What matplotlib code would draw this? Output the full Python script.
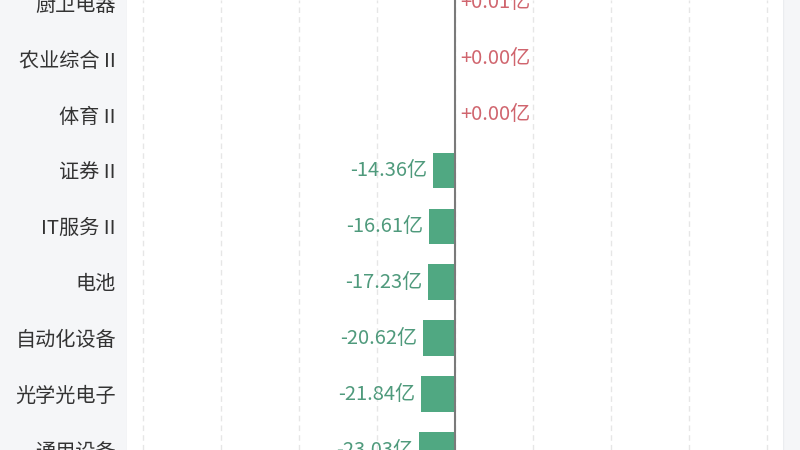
import matplotlib
matplotlib.use("Agg")
import matplotlib.pyplot as plt
from matplotlib.patches import Rectangle

plt.rcParams["font.family"] = ["Noto Sans CJK SC", "DejaVu Sans"]

categories = ["厨卫电器", "农业综合 II", "体育 II", "证券 II", "IT服务 II",
              "电池", "自动化设备", "光学光电子", "通用设备"]
values = [0.01, 0.00, 0.00, -14.36, -16.61, -17.23, -20.62, -21.84, -23.03]
value_labels = ["+0.01亿", "+0.00亿", "+0.00亿", "-14.36亿", "-16.61亿",
                "-17.23亿", "-20.62亿", "-21.84亿", "-23.03亿"]

green_bar = "#50a882"
green_text = "#4f9a7c"
red_text = "#d0656e"

fig = plt.figure(figsize=(8, 4.5), dpi=100, facecolor="white")

# side panels (behind the axes)
fig.patches.append(Rectangle((0, 0), 127 / 800, 1, transform=fig.transFigure,
                             facecolor="#f5f6f8", edgecolor="none", zorder=-2))
fig.patches.append(Rectangle((783 / 800, 0), 17 / 800, 1, transform=fig.transFigure,
                             facecolor="#f5f6f8", edgecolor="none", zorder=-2))
fig.lines.append(plt.Line2D([127 / 800, 127 / 800], [0, 1], transform=fig.transFigure,
                            color="#ebedf0", linewidth=1, zorder=-1))
fig.lines.append(plt.Line2D([783 / 800, 783 / 800], [0, 1], transform=fig.transFigure,
                            color="#ebedf0", linewidth=1, zorder=-1))

ax = fig.add_axes([127 / 800, 0, 656 / 800, 1])
ax.set_facecolor("white")

y = list(range(len(categories)))
colors = [green_bar if v < 0 else "#d0656e" for v in values]
ax.barh(y, values, height=0.64, color=colors, zorder=2)

for yi, v, lab in zip(y, values, value_labels):
    if v < 0:
        ax.annotate(lab, (v, yi), xytext=(-4, 0), textcoords="offset points",
                    ha="right", va="center", fontsize=14.5, color=green_text)
    else:
        ax.annotate(lab, (v, yi), xytext=(3.5, 0), textcoords="offset points",
                    ha="left", va="center", fontsize=14.5, color=red_text)

ax.axvline(0, color="#7a7a7a", linewidth=1.5, zorder=3)

ax.set_xlim(-210.3, 210.3)
ax.set_ylim(7.94, -0.053)
ax.set_xticks(range(-200, 201, 50))
ax.xaxis.grid(True, linestyle=(0, (4, 3)), color="#e6e6e6", linewidth=1)
ax.set_axisbelow(True)
ax.tick_params(axis="x", length=0, labelbottom=False)

ax.set_yticks(y)
ax.set_yticklabels(categories, fontsize=14.5, color="#333333")
ax.tick_params(axis="y", length=0, pad=8)

for s in ax.spines.values():
    s.set_visible(False)

fig.savefig("out.png", dpi=100, facecolor=fig.get_facecolor())
